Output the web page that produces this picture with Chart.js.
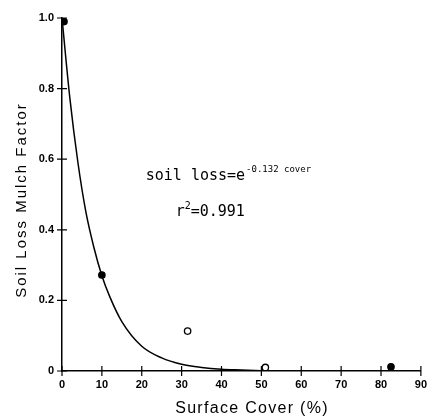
<!DOCTYPE html>
<html>
<head>
<meta charset="utf-8">
<script src="https://cdn.jsdelivr.net/npm/chart.js@4"></script>
<style>
  html, body { margin: 0; padding: 0; background: #fff; }
  #wrap { width: 434px; height: 417px; }
</style>
</head>
<body>
<div id="wrap"><canvas id="mulch-chart" width="434" height="417"></canvas></div>
<script>
/**
 * Data
 */
let coverObs = [0.5, 10, 31.5, 51, 82.5];
let lossObs = [0.99, 0.272, 0.113, 0.01, 0.012];
let obsFill = ['#000', '#000', '#fff', '#fff', '#000'];

// fitted curve
let coverFit = [0, 2, 4, 6, 8, 10, 12, 15, 20, 25, 30, 35, 40, 45, 50];
let lossFit = [1.0, 0.77, 0.59, 0.45, 0.35, 0.27, 0.21, 0.14, 0.07, 0.037, 0.019, 0.01, 0.005, 0.003, 0.001];

let xTicks = [0, 10, 20, 30, 40, 50, 60, 70, 80, 90];
let yTicks = [0, 0.2, 0.4, 0.6, 0.8, 1.0];

let xTitle = 'Surface Cover (%)';
let yTitle = 'Soil Loss Mulch Factor';

/**
 * Methods
 */
const crossTicks = {
  id: 'crossTicks',
  afterDraw(chart) {
    const { ctx, chartArea, scales } = chart;
    ctx.save();
    ctx.strokeStyle = '#000';
    ctx.lineWidth = 1.2;
    ctx.beginPath();
    xTicks.forEach(v => {
      const px = scales.x.getPixelForValue(v);
      ctx.moveTo(px, chartArea.bottom - 5);
      ctx.lineTo(px, chartArea.bottom + 5);
    });
    yTicks.forEach(v => {
      const py = scales.y.getPixelForValue(v);
      ctx.moveTo(chartArea.left - 5, py);
      ctx.lineTo(chartArea.left + 5, py);
    });
    ctx.stroke();

    // axis titles, spaced out like the original
    ctx.fillStyle = '#000';
    ctx.textAlign = 'center';
    ctx.textBaseline = 'alphabetic';
    ctx.font = '16px "Liberation Sans"';
    ctx.letterSpacing = '1.3px';
    ctx.fillText(xTitle, 252, 413);

    ctx.save();
    ctx.translate(26, 200);
    ctx.rotate(-Math.PI / 2);
    ctx.font = '15px "Liberation Sans"';
    ctx.letterSpacing = '2px';
    ctx.fillText(yTitle, 0, 0);
    ctx.restore();
    ctx.letterSpacing = '0px';

    // equation text
    ctx.textAlign = 'left';
    const tx = scales.x.getPixelForValue(21);
    const ty = scales.y.getPixelForValue(0.54);
    ctx.font = '15px "DejaVu Sans Mono"';
    const base = 'soil loss=e';
    ctx.fillText(base, tx, ty);
    const w = ctx.measureText(base).width;
    ctx.font = '9px "DejaVu Sans Mono"';
    ctx.fillText('-0.132 cover', tx + w + 1, ty - 8);

    const rx = scales.x.getPixelForValue(28.5);
    const ry = scales.y.getPixelForValue(0.44);
    ctx.font = '15px "DejaVu Sans Mono"';
    ctx.fillText('r', rx, ry);
    const rw = ctx.measureText('r').width;
    ctx.font = '10px "DejaVu Sans Mono"';
    ctx.fillText('2', rx + rw, ry - 7);
    const sw = ctx.measureText('2').width;
    ctx.font = '15px "DejaVu Sans Mono"';
    ctx.fillText('=0.991', rx + rw + sw, ry);
    ctx.restore();
  }
};

const createGraphic = () => {
  const ctx = document.getElementById('mulch-chart').getContext('2d');

  const scatterChart = new Chart(ctx, {
    type: 'scatter',
    data: {
      datasets: [
        {
          label: 'Observed',
          data: coverObs.map((x, i) => ({ x: x, y: lossObs[i] })),
          pointRadius: 3.2,
          pointBackgroundColor: obsFill,
          pointBorderColor: '#000',
          pointBorderWidth: 1.3,
          showLine: false
        },
        {
          label: 'Fit',
          data: coverFit.map((x, i) => ({ x: x, y: lossFit[i] })),
          showLine: true,
          borderColor: '#000',
          borderWidth: 1.5,
          pointRadius: 0,
          cubicInterpolationMode: 'monotone',
          fill: false
        }
      ]
    },
    options: {
      responsive: false,
      animation: false,
      layout: { padding: { left: 0, top: 18, right: 7, bottom: 0 } },
      plugins: {
        legend: { display: false },
        tooltip: { enabled: false }
      },
      scales: {
        x: {
          type: 'linear',
          min: 0,
          max: 90,
          afterFit: s => { s.height = 46; },
          afterBuildTicks: s => { s.ticks = xTicks.map(v => ({ value: v })); },
          grid: { display: false, drawTicks: false },
          border: { color: '#000', width: 1.5 },
          ticks: {
            padding: 7,
            color: '#000',
            font: { family: 'Liberation Sans', size: 11, weight: 'bold' },
            maxRotation: 0
          }
        },
        y: {
          min: 0,
          max: 1.0,
          afterFit: s => { s.width = 62; },
          afterBuildTicks: s => { s.ticks = yTicks.map(v => ({ value: v })); },
          grid: { display: false, drawTicks: false },
          border: { color: '#000', width: 1.5 },
          ticks: {
            padding: 8,
            color: '#000',
            font: { family: 'Liberation Sans', size: 11, weight: 'bold' },
            callback: v => (v === 0 ? '0' : v.toFixed(1))
          }
        }
      }
    },
    plugins: [crossTicks]
  });
};

/**
 * Events
 */
document.addEventListener("DOMContentLoaded", () => {
  createGraphic();
});
</script>
</body>
</html>
